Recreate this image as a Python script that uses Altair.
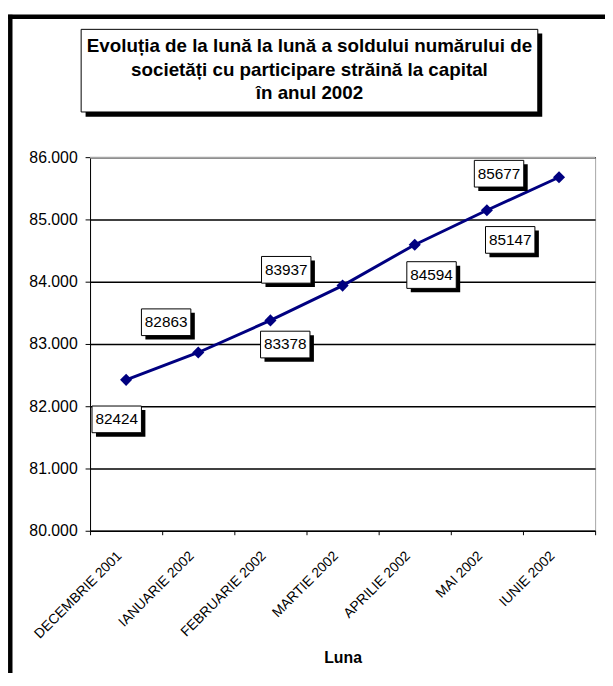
import altair as alt
import pandas as pd

# ---- data ----
months = ["DECEMBRIE 2001", "IANUARIE 2002", "FEBRUARIE 2002", "MARTIE 2002",
          "APRILIE 2002", "MAI 2002", "IUNIE 2002"]
values = [82424, 82863, 83378, 83937, 84594, 85147, 85677]
# label box offsets from each point (pixels)
label_dx = [-9.5, -32.5, 15, -57, 17, 23.6, -60.7]
label_dy = [40, -30.6, 24.4, -16, 30.7, 30, -3.6]
y_ticks = [80000, 81000, 82000, 83000, 84000, 85000, 86000]
title_lines = ["Evoluția de la lună la lună  a soldului numărului de",
               "societăți cu participare străină la capital",
               "în anul 2002"]
x_title = "Luna"

FONT = "Liberation Sans"
NAVY = "#000080"

df = pd.DataFrame({
    "luna": months,
    "val": values,
    "lbl": [str(v) for v in values],
    "i": list(range(len(values))),
    "dx": label_dx,
    "dy": label_dy,
})
one = pd.DataFrame({"k": [0]})

W, H = 511, 378

x_enc = alt.X(
    "luna:N", sort=months,
    scale=alt.Scale(type="band", paddingInner=0, paddingOuter=0),
    axis=alt.Axis(
        title=x_title, tickBand="extent", grid=False,
        labelAngle=315, labelAlign="right", labelBaseline="top",
        labelFont=FONT, labelFontSize=14, labelColor="black",
        labelPadding=14, labelOffset=-12, labelOverlap=False,
        tickSize=4, tickColor="black", domainColor="black",
        titleFont=FONT, titleFontSize=16, titleFontWeight="bold",
        titleColor="black", titleY=133, titleBaseline="alphabetic",
    ),
)
y_enc = alt.Y(
    "val:Q",
    scale=alt.Scale(domain=[80000, 86000], nice=False, zero=False),
    axis=alt.Axis(
        title=None, values=y_ticks,
        labelExpr="replace(format(datum.value, ','), ',', '.')",
        labelFont=FONT, labelFontSize=16, labelColor="black",
        labelPadding=8, tickSize=5, tickColor="black", domainColor="black",
        grid=True, gridWidth=1.5, gridColor="black", gridOpacity=1,
    ),
)

base = alt.Chart(df).encode(x=x_enc, y=y_enc)

line = base.mark_line(color=NAVY, strokeWidth=3)
pts = base.mark_point(shape="diamond", size=150, filled=True, color=NAVY, opacity=1)

boxes_src = base.transform_calculate(
    box="'M' + (datum.dx - 25) + ',' + (datum.dy - 13.5) + 'h50v27h-50z'",
    sh="'M' + (datum.dx - 21) + ',' + (datum.dy - 9.5) + 'h50v27h-50z'",
)
shadows = boxes_src.mark_point(filled=True, fill="black", stroke="black",
                               strokeWidth=0, size=4, opacity=1).encode(
    shape=alt.Shape("sh:N", scale=None))
boxes = boxes_src.mark_point(filled=True, fill="white", stroke="black",
                             strokeWidth=1, size=4, opacity=1).encode(
    shape=alt.Shape("box:N", scale=None))

texts = []
for i, (ddx, ddy) in enumerate(zip(label_dx, label_dy)):
    texts.append(
        base.transform_filter(f"datum.i == {i}").mark_text(
            dx=ddx, dy=ddy, font=FONT, fontSize=15.5, color="black",
            align="center", baseline="middle").encode(text="lbl:N")
    )

deco = alt.Chart(one)
top_border = deco.mark_rule(color="#a6a6a6", strokeWidth=1.6).encode(
    x=alt.value(0), x2=alt.value(W), y=alt.value(0.5))
frame_left = deco.mark_rule(color="black", strokeWidth=4.5).encode(
    x=alt.value(-80.7), y=alt.value(-144), y2=alt.value(560))
frame_top = deco.mark_rule(color="black", strokeWidth=4.5).encode(
    x=alt.value(-84), x2=alt.value(540), y=alt.value(-142))
title_shadow = deco.mark_rect(fill="black").encode(
    x=alt.value(-4.5), x2=alt.value(457.5), y=alt.value(-125), y2=alt.value(-41))
title_box = deco.mark_rect(fill="white", stroke="black", strokeWidth=1).encode(
    x=alt.value(-9), x2=alt.value(453), y=alt.value(-129.3), y2=alt.value(-45.7))
title_text = deco.mark_text(
    text=title_lines, font=FONT, fontSize=19, fontWeight="bold", color="black",
    lineHeight=23.5, align="center", baseline="middle").encode(
    x=alt.value(222), y=alt.value(-112))

chart = alt.layer(
    top_border, frame_left, frame_top, title_shadow, title_box, title_text,
    line, pts, shadows, boxes, *texts,
).properties(
    width=W, height=H,
    autosize=alt.AutoSizeParams(type="none"),
    padding={"left": 83, "top": 147, "right": 10, "bottom": 140},
    background="white",
).configure_view(stroke="#a6a6a6", strokeWidth=1)

chart.save("out.html", embed_options={"renderer": "svg", "actions": False})
